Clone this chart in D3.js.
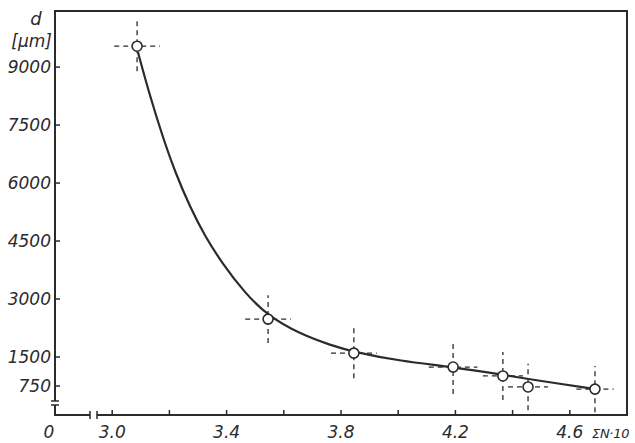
<!DOCTYPE html>
<html>
<head>
<meta charset="utf-8">
<script src="https://cdn.jsdelivr.net/npm/d3@7"></script>
<style>
  body { margin: 0; background: #fff; }
  svg { display: block; }
  text { font-family: "DejaVu Sans", sans-serif; font-style: italic; fill: #2b2b2b; }
</style>
</head>
<body>
<script>
// measured points (sum N, d in um) with their scatter
var sumN = [3.087, 3.545, 3.845, 4.192, 4.366, 4.454, 4.688];
var dVals = [9540, 2480, 1600, 1240, 1010, 725, 670];
var nErr = [0.08, 0.08, 0.08, 0.085, 0.07, 0.07, 0.065];
var dErr = [650, 620, 650, 700, 620, 600, 600];

// fitted curve
var fitN = [3.09, 3.132, 3.178, 3.22, 3.272, 3.324, 3.384, 3.464, 3.545, 3.657, 3.762, 3.845, 4.006, 4.192, 4.366, 4.454, 4.688];
var fitD = [9387, 8249, 7163, 6284, 5379, 4629, 3931, 3155, 2560, 2095, 1810, 1629, 1396, 1241, 1040, 931, 672];

var yTicks = [750, 1500, 3000, 4500, 6000, 7500, 9000];
var xTicks = [3.0, 3.2, 3.4, 3.6, 3.8, 4.0, 4.2, 4.4, 4.6];
var xLabels = ['3.0', '3.4', '3.8', '4.2', '4.6'];

var cfg = {
  width: 635,
  height: 443,
  left: 55,
  right: 627,
  top: 11,
  bottom: 415,
  ink: '#2b2b2b'
};

var svg = d3.select('body').append('svg').attr('width', cfg.width).attr('height', cfg.height);

var x = d3.scaleLinear().domain([2.8, 4.8]).range([cfg.left, cfg.right]);
var y = d3.scaleLinear().domain([0, 10450]).range([cfg.bottom, cfg.top]);

// frame, with the breaks on both axes
var frame = svg.append('g').attr('fill', 'none').attr('stroke', cfg.ink).attr('stroke-width', 2);
frame.append('path').attr('d', 'M' + cfg.left + ',' + (cfg.bottom - 14) + 'V' + cfg.top + 'H' + cfg.right + 'V' + cfg.bottom + 'H' + 97);
frame.append('path').attr('d', 'M' + cfg.left + ',' + (cfg.bottom - 10) + 'V' + cfg.bottom + 'H' + 90);
// y break
frame.append('path').attr('stroke-width', 1.5).attr('d',
  'M' + (cfg.left - 4) + ',' + (cfg.bottom - 14) + 'h8M' + (cfg.left - 4) + ',' + (cfg.bottom - 10) + 'h8');
// x break
frame.append('path').attr('stroke-width', 1.5).attr('d',
  'M90,' + (cfg.bottom - 4) + 'v8M97,' + (cfg.bottom - 4) + 'v8');

// y ticks and labels
svg.append('g').selectAll('line').data(yTicks).enter().append('line')
  .attr('x1', cfg.left).attr('x2', cfg.left + 5)
  .attr('y1', function(d) { return y(d); }).attr('y2', function(d) { return y(d); })
  .attr('stroke', cfg.ink).attr('stroke-width', 1.5);
svg.append('g').selectAll('text').data(yTicks).enter().append('text')
  .attr('x', cfg.left - 4).attr('y', function(d) { return y(d) + 6; })
  .attr('text-anchor', 'end').attr('font-size', 17)
  .text(function(d) { return d; });

// x ticks and labels
svg.append('g').selectAll('line').data(xTicks).enter().append('line')
  .attr('x1', function(d) { return x(d); }).attr('x2', function(d) { return x(d); })
  .attr('y1', cfg.bottom).attr('y2', cfg.bottom - 5)
  .attr('stroke', cfg.ink).attr('stroke-width', 1.5);
svg.append('g').selectAll('text').data(xLabels).enter().append('text')
  .attr('x', function(d) { return x(+d); }).attr('y', 438)
  .attr('text-anchor', 'middle').attr('font-size', 17)
  .text(function(d) { return d; });
svg.append('text').attr('x', cfg.left - 6).attr('y', 438).attr('text-anchor', 'middle').attr('font-size', 17).text('0');
svg.append('text').attr('x', 592).attr('y', 438).attr('font-size', 13).attr('letter-spacing', -0.3).text('ΣN·10');

// axis title
svg.append('text').attr('x', 36).attr('y', 25).attr('text-anchor', 'middle').attr('font-size', 18).text('d');
svg.append('text').attr('x', 52).attr('y', 47).attr('text-anchor', 'end').attr('font-size', 17).text('[µm]');

// fitted curve
var fit = fitN.map(function(n, i) { return [n, fitD[i]]; });
var line = d3.line().x(function(d) { return x(d[0]); }).y(function(d) { return y(d[1]); }).curve(d3.curveBasis);
svg.append('path').datum(fit).attr('d', line)
  .attr('fill', 'none').attr('stroke', cfg.ink).attr('stroke-width', 2.2);

// error crosses and points
var pts = sumN.map(function(n, i) { return { n: n, d: dVals[i], en: nErr[i], ed: dErr[i] }; });
var g = svg.append('g');
g.selectAll('.eh').data(pts).enter().append('line')
  .attr('x1', function(p) { return x(p.n - p.en); }).attr('x2', function(p) { return x(p.n + p.en); })
  .attr('y1', function(p) { return y(p.d); }).attr('y2', function(p) { return y(p.d); })
  .attr('stroke', cfg.ink).attr('stroke-width', 1.3).attr('stroke-dasharray', '5,4');
g.selectAll('.ev').data(pts).enter().append('line')
  .attr('x1', function(p) { return x(p.n); }).attr('x2', function(p) { return x(p.n); })
  .attr('y1', function(p) { return y(p.d - p.ed); }).attr('y2', function(p) { return y(p.d + p.ed); })
  .attr('stroke', cfg.ink).attr('stroke-width', 1.3).attr('stroke-dasharray', '5,4');
g.selectAll('circle').data(pts).enter().append('circle')
  .attr('cx', function(p) { return x(p.n); }).attr('cy', function(p) { return y(p.d); })
  .attr('r', 5).attr('fill', '#fff').attr('stroke', cfg.ink).attr('stroke-width', 1.6);
</script>
</body>
</html>
